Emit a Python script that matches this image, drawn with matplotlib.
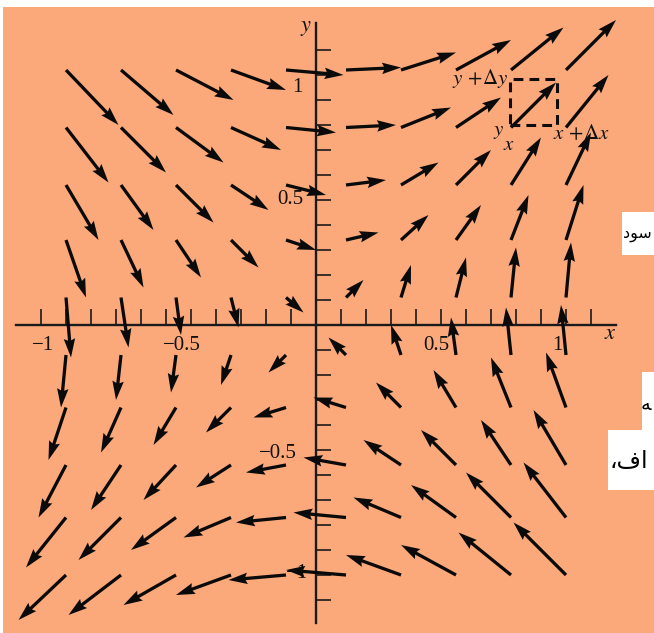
import matplotlib
matplotlib.use("Agg")
import matplotlib.pyplot as plt
from matplotlib.patches import Rectangle

plt.rcParams["mathtext.fontset"] = "stix"

# ---- data -----------------------------------------------------------------
# tails of the arrows (data units)
x_grid = [-1.00, -0.78, -0.56, -0.34, -0.12, 0.12, 0.34, 0.56, 0.78, 1.00]
y_grid = [1.02, 0.79, 0.56, 0.34, 0.11, -0.12, -0.33, -0.56, -0.77, -1.00]

# arrow components (rows: top to bottom, columns: left to right)
U_rows = [
    [0.21, 0.21, 0.23, 0.22, 0.23, 0.22, 0.22, 0.22, 0.21, 0.20],
    [0.17, 0.18, 0.19, 0.20, 0.20, 0.20, 0.20, 0.18, 0.18, 0.17],
    [0.13, 0.13, 0.15, 0.15, 0.16, 0.16, 0.15, 0.14, 0.12, 0.10],
    [0.08, 0.09, 0.10, 0.11, 0.12, 0.13, 0.11, 0.10, 0.07, 0.07],
    [0.02, 0.03, 0.02, 0.03, 0.07, 0.07, 0.04, 0.04, 0.02, 0.02],
    [-0.02, -0.02, -0.02, -0.04, -0.07, -0.07, -0.04, -0.02, -0.02, -0.02],
    [-0.07, -0.08, -0.09, -0.10, -0.13, -0.13, -0.10, -0.09, -0.08, -0.08],
    [-0.11, -0.12, -0.13, -0.14, -0.16, -0.17, -0.15, -0.14, -0.12, -0.13],
    [-0.16, -0.17, -0.18, -0.19, -0.20, -0.21, -0.19, -0.18, -0.18, -0.17],
    [-0.19, -0.21, -0.21, -0.22, -0.23, -0.24, -0.22, -0.22, -0.21, -0.21],
]
V_rows = [
    [-0.22, -0.18, -0.12, -0.08, -0.02, 0.01, 0.07, 0.12, 0.17, 0.20],
    [-0.22, -0.18, -0.14, -0.09, -0.02, 0.01, 0.08, 0.12, 0.18, 0.21],
    [-0.22, -0.18, -0.15, -0.10, -0.04, 0.02, 0.09, 0.14, 0.19, 0.21],
    [-0.23, -0.19, -0.15, -0.11, -0.04, 0.03, 0.10, 0.14, 0.18, 0.22],
    [-0.24, -0.20, -0.15, -0.12, -0.06, 0.07, 0.13, 0.16, 0.20, 0.22],
    [-0.21, -0.18, -0.15, -0.12, -0.07, 0.07, 0.12, 0.15, 0.19, 0.20],
    [-0.21, -0.18, -0.15, -0.10, -0.04, 0.04, 0.10, 0.15, 0.20, 0.22],
    [-0.21, -0.18, -0.14, -0.09, -0.03, 0.03, 0.10, 0.14, 0.18, 0.22],
    [-0.20, -0.17, -0.13, -0.08, -0.02, 0.02, 0.08, 0.13, 0.18, 0.22],
    [-0.18, -0.16, -0.12, -0.08, -0.02, 0.02, 0.08, 0.12, 0.17, 0.21],
]

x_ticks = [k / 10 for k in range(-11, 12) if k != 0]
y_ticks = [k / 10 for k in range(-11, 12) if k != 0]
x_tick_labels = ["\u22121", "\u22120.5", "0.5", "1"]
y_tick_labels = ["1", "0.5", "\u22120.5", "\u22121"]

# dashed element box corners
box_x = [0.776, 0.964]
box_y = [0.800, 0.984]

# page text fragments in the white boxes (Arabic script, visual order)
page_texts = ["\uFEA9\uFEEE\uFEB3", "\uFEEA", "\u060C\uFED1\uFE8D"]

# ---- figure ---------------------------------------------------------------
BG = "#FBA97B"
W, H = 654, 633
fig = plt.figure(figsize=(W / 100, H / 100), dpi=100, facecolor=BG)
ax = fig.add_axes([0, 0, 1, 1])
ax.set_facecolor(BG)
ax.set_xlim(-1.264, 1.352)
ax.set_ylim(-1.232, 1.300)

# axes through the origin
for s in ("top", "right"):
    ax.spines[s].set_visible(False)
ax.spines["left"].set_position(("data", 0))
ax.spines["bottom"].set_position(("data", 0))
ax.spines["left"].set_bounds(-1.19, 1.21)
ax.spines["bottom"].set_bounds(-1.20, 1.20)
for s in ("left", "bottom"):
    ax.spines[s].set_linewidth(1.7)
    ax.spines[s].set_color("#1a1a1a")
    ax.spines[s].set_zorder(2)
ax.set_xticks(x_ticks)
ax.set_yticks(y_ticks)
ax.tick_params(axis="x", direction="in", length=11.5, width=1.2,
               color="#1a1a1a", labelbottom=False)
ax.tick_params(axis="y", direction="in", length=10.5, width=1.2,
               color="#1a1a1a", labelleft=False)

# arrows
X, Y, U, V = [], [], [], []
for i, yv in enumerate(y_grid):
    for j, xv in enumerate(x_grid):
        X.append(xv)
        Y.append(yv)
        U.append(U_rows[i][j])
        V.append(V_rows[i][j])
ax.quiver(X, Y, U, V, angles="xy", scale_units="xy", scale=1,
          color="#0a0a0a", width=0.0050, headwidth=3.5, headlength=5.8,
          headaxislength=5.2, minlength=0.5, zorder=3)

# dashed box
ax.plot([box_x[0], box_x[1], box_x[1], box_x[0], box_x[0]],
        [box_y[0], box_y[0], box_y[1], box_y[1], box_y[0]],
        ls=(0, (3.2, 2.0)), lw=2.2, color="#0d0d0d", zorder=3)

serif = "Liberation Serif"
fs = 15
# tick labels
for t, xv in zip(x_tick_labels, [-1.092, -0.536, 0.48, 0.964]):
    ax.text(xv, -0.082, t, ha="center", va="center", fontsize=fs,
            family=serif, color="#111111", zorder=4)
for t, (xv, yv) in zip(y_tick_labels, [(-0.076, 0.948), (-0.104, 0.50),
                                       (-0.152, -0.512), (-0.076, -0.996)]):
    ax.text(xv, yv, t, ha="center", va="center", fontsize=fs,
            family=serif, color="#111111", zorder=2)

# axis names
ax.text(1.176, -0.032, "$x$", ha="center", va="center", fontsize=fs + 1,
        color="#111111")
ax.text(-0.04, 1.188, "$y$", ha="center", va="center", fontsize=fs + 1,
        color="#111111")

# box labels
ax.text(0.768, 0.988, r"$y\,+\!\Delta y$", ha="right", va="center",
        fontsize=fs, color="#111111")
ax.text(0.730, 0.776, "$y$", ha="center", va="center", fontsize=fs,
        color="#111111")
ax.text(0.772, 0.722, "$x$", ha="center", va="center", fontsize=fs,
        color="#111111")
ax.text(0.948, 0.768, r"$x\,+\!\Delta x$", ha="left", va="center",
        fontsize=fs, color="#111111")

# white page margins and the white page-text boxes (figure coords)
def px_rect(x0, y0, x1, y1):
    return Rectangle((x0 / W, 1 - y1 / H), (x1 - x0) / W, (y1 - y0) / H,
                     transform=fig.transFigure, facecolor="white",
                     edgecolor="none", zorder=10)

for r in [px_rect(0, 0, W, 7), px_rect(0, 0, 3, H),
          px_rect(622, 212, W, 255), px_rect(642, 372, W, 431),
          px_rect(608, 430, W, 490)]:
    fig.patches.append(r)

fig.text(623 / W, 1 - 234 / H, page_texts[0], ha="left", va="center",
         fontsize=11.5, family=["DejaVu Sans"], color="black", zorder=11)
fig.text(641 / W, 1 - 404 / H, page_texts[1], ha="left", va="center",
         fontsize=14, family=["DejaVu Sans"], color="black", zorder=11)
fig.text(610 / W, 1 - 461 / H, page_texts[2], ha="left", va="center",
         fontsize=17, family=["DejaVu Sans"], color="black", zorder=11)

fig.savefig("out.png", dpi=100, facecolor=BG)
